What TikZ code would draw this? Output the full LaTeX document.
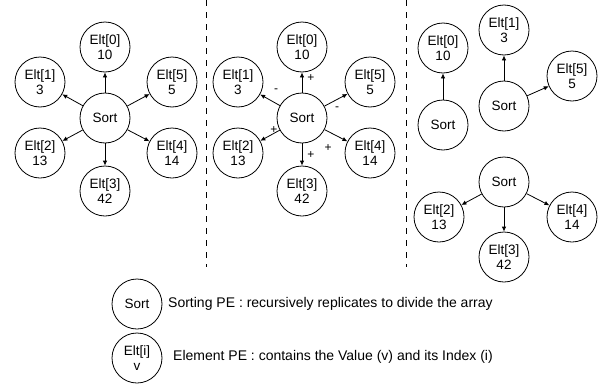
\documentclass[tikz,border=0pt]{standalone}
\usepackage{fontspec}
\setmainfont{Liberation Sans}
\usetikzlibrary{arrows.meta}
\begin{document}
\begin{tikzpicture}[x=1pt,y=-1pt,
  pe/.style={circle,draw,line width=0.8pt,minimum size=50pt,inner sep=0pt,align=center,font=\fontsize{13.5}{15}\selectfont},
  arr/.style={-{Latex[length=5pt,width=4.5pt]},line width=0.8pt},
  sep/.style={dash pattern=on 6pt off 6pt,line width=0.8pt},
  sgn/.style={font=\fontsize{12}{13}\selectfont,inner sep=0pt},
  leg/.style={anchor=west,inner sep=0pt,font=\fontsize{14}{16}\selectfont}]
\useasboundingbox (0,0) rectangle (605,383);
% separators
\coordinate (d1t) at (206,0);
\coordinate (d1b) at (206,267);
\coordinate (d2t) at (406,0);
\coordinate (d2b) at (406,267);
\draw[sep] (d1t) -- (d1b);
\draw[sep] (d2t) -- (d2b);
% panel 1
\node[pe] (s1) at (105,118) {Sort};
\node[pe] (a0) at (105,47) {Elt[0]\\10};
\node[pe] (a1) at (40,82) {Elt[1]\\3};
\node[pe] (a5) at (172,82) {Elt[5]\\5};
\node[pe] (a2) at (40,153) {Elt[2]\\13};
\node[pe] (a4) at (172,153) {Elt[4]\\14};
\node[pe] (a3) at (105,191) {Elt[3]\\42};
\foreach \t in {a0,a1,a5,a2,a4,a3} \draw[arr] (s1) -- (\t);
% panel 2
\node[pe] (s2) at (302,118) {Sort};
\node[pe] (b0) at (302,47) {Elt[0]\\10};
\node[pe] (b1) at (238,82) {Elt[1]\\3};
\node[pe] (b5) at (370,82) {Elt[5]\\5};
\node[pe] (b2) at (238,153) {Elt[2]\\13};
\node[pe] (b4) at (370,153) {Elt[4]\\14};
\node[pe] (b3) at (302,191) {Elt[3]\\42};
\foreach \t in {b0,b1,b5,b2,b4,b3} \draw[arr] (s2) -- (\t);
\node[sgn] (p0) at (311,78) {+};
\node[sgn] (m1) at (276,91) {-};
\node[sgn] (m5) at (337,109) {-};
\node[sgn] (p2) at (274,130) {+};
\node[sgn] (p4) at (328,148) {+};
\node[sgn] (p3) at (311,155) {+};
% panel 3
\node[pe] (c0) at (443,48) {Elt[0]\\10};
\node[pe] (s3) at (443,125) {Sort};
\draw[arr] (s3) -- (c0);
\node[pe] (s4) at (504,106) {Sort};
\node[pe] (c1) at (504,30) {Elt[1]\\3};
\node[pe] (c5) at (572,76) {Elt[5]\\5};
\draw[arr] (s4) -- (c1);
\draw[arr] (s4) -- (c5);
\node[pe] (s5) at (504,182) {Sort};
\node[pe] (c2) at (439,217) {Elt[2]\\13};
\node[pe] (c4) at (572,217) {Elt[4]\\14};
\node[pe] (c3) at (504,257) {Elt[3]\\42};
\draw[arr] (s5) -- (c2);
\draw[arr] (s5) -- (c4);
\draw[arr] (s5) -- (c3);
% legend
\node[pe] (ls) at (137,304) {Sort};
\node[leg] (lt) at (168,304) {Sorting PE : recursively replicates to divide the array};
\node[pe] (le) at (137,358) {Elt[i]\\v};
\node[leg] (ltt) at (173,357) {Element PE : contains the Value (v) and its Index (i)};
\end{tikzpicture}
\end{document}
